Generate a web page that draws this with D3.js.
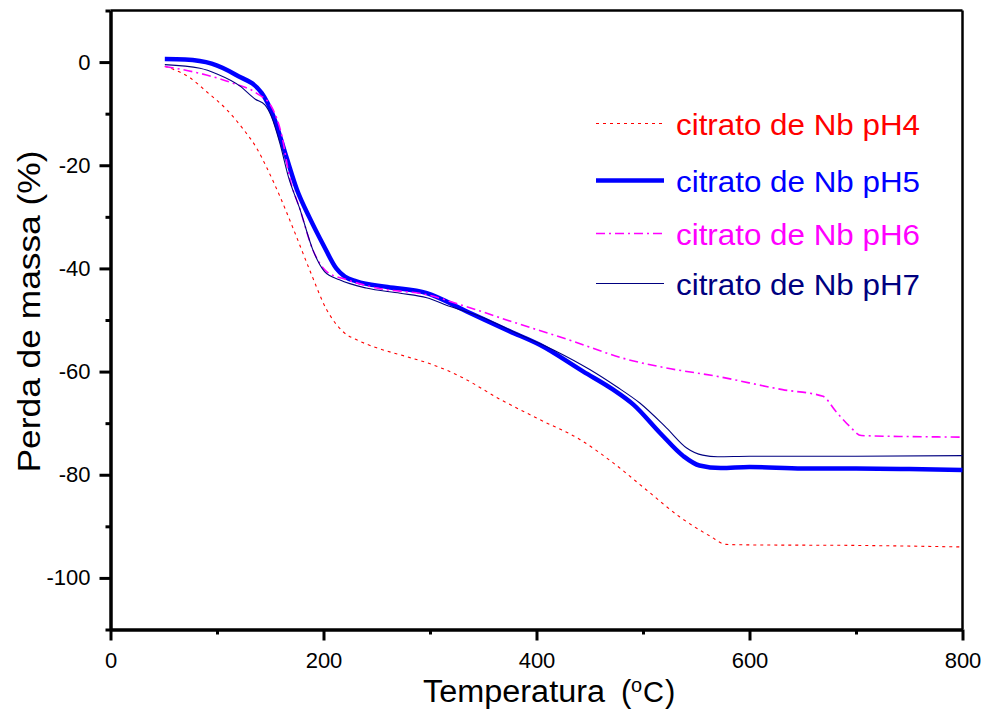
<!DOCTYPE html>
<html>
<head>
<meta charset="utf-8">
<script src="https://cdn.jsdelivr.net/npm/d3@7"></script>
<style>
  body { margin: 0; background: #fff; }
  svg text { font-family: "Liberation Sans", Arial, sans-serif; }
</style>
</head>
<body>
<script>
var width = 990, height = 714;

// Temperature (°C) and mass loss (%), one pair of arrays per sample
var tempPH4 = [51, 75, 90, 109, 125, 137, 147, 159, 172, 187, 203, 218, 234, 250, 278, 303, 328, 366, 403, 441, 472, 503, 534, 563, 578, 600, 700, 800];
var massPH4 = [-0.8, -3.1, -5.7, -9.2, -13.1, -16.6, -20.6, -26.0, -32.5, -40.3, -48.0, -52.2, -54.1, -55.4, -57.1, -58.7, -60.9, -65.4, -69.3, -73.2, -77.7, -82.9, -88.1, -91.9, -93.5, -93.6, -93.7, -94.0];

var tempPH5 = [51, 70, 95, 118, 142, 153, 165, 175, 187, 200, 212, 220, 231, 260, 297, 334, 375, 403, 444, 472, 491, 516, 538, 553, 573, 600, 650, 700, 750, 800];
var massPH5 = [0.6, 0.5, -0.3, -2.5, -6.0, -10.5, -18.3, -24.7, -30.2, -35.5, -40.0, -41.6, -42.5, -43.6, -44.8, -48.3, -52.2, -54.8, -60.0, -63.5, -66.4, -71.9, -76.4, -78.2, -78.7, -78.5, -78.8, -78.8, -78.9, -79.1];

var tempPH6 = [51, 90, 115, 137, 151, 161, 168, 178, 190, 203, 222, 250, 297, 334, 381, 434, 481, 522, 569, 631, 669, 681, 694, 705, 750, 800];
var massPH6 = [-0.85, -2.5, -4.1, -6.0, -8.6, -14.4, -22.2, -28.6, -36.4, -40.6, -42.2, -43.8, -45.1, -47.4, -50.6, -54.1, -57.4, -59.3, -60.9, -63.5, -64.8, -67.7, -70.6, -72.4, -72.6, -72.7];

var tempPH7 = [51, 84, 100, 122, 136, 145, 151, 159, 167, 178, 190, 201, 215, 240, 272, 297, 319, 347, 381, 416, 450, 475, 497, 522, 541, 556, 570, 600, 700, 800];
var massPH7 = [-0.5, -1.2, -2.3, -4.7, -7.2, -8.3, -10.5, -15.7, -22.2, -28.6, -36.4, -40.6, -42.2, -43.8, -44.8, -45.7, -47.4, -49.3, -52.5, -55.8, -59.6, -62.9, -66.1, -70.9, -74.8, -76.2, -76.5, -76.4, -76.4, -76.3];

var labels = ['citrato de Nb pH4', 'citrato de Nb pH5', 'citrato de Nb pH6', 'citrato de Nb pH7'];
var xMajor = [0, 200, 400, 600, 800];
var xMinor = [100, 300, 500, 700];
var yMajor = [0, -20, -40, -60, -80, -100];
var yMinor = [10, -10, -30, -50, -70, -90, -110];

// line styles per series
var series = [
  {label: labels[0], t: tempPH4, m: massPH4, color: '#ff0000', w: 1.1, dash: '3,4'},
  {label: labels[1], t: tempPH5, m: massPH5, color: '#0000ff', w: 4.5, dash: null},
  {label: labels[2], t: tempPH6, m: massPH6, color: '#ff00ff', w: 1.6, dash: '9,4,2,4'},
  {label: labels[3], t: tempPH7, m: massPH7, color: '#000080', w: 1.1, dash: null}
];

var svg = d3.select('body').append('svg')
  .attr('width', width)
  .attr('height', height);

var x = d3.scaleLinear().domain([0, 800]).range([110.5, 962.5]);
var y = d3.scaleLinear().domain([-110, 10]).range([629.5, 10.5]);

// frame: top and right
svg.append('line').attr('x1', x(0)).attr('x2', x(800)).attr('y1', y(10)).attr('y2', y(10))
  .attr('stroke', '#000').attr('stroke-width', 2.5);
svg.append('line').attr('x1', x(800)).attr('x2', x(800)).attr('y1', y(10)).attr('y2', y(-110))
  .attr('stroke', '#000').attr('stroke-width', 2.5);

function styleAxis(g) {
  g.select('.domain').attr('stroke-width', 3);
  g.selectAll('.tick line').attr('stroke-width', 3);
  g.selectAll('.tick text').style('font-size', '22px').attr('fill', '#000');
}

// minor ticks first, then major axes on top
svg.append('g').attr('transform', 'translate(0,' + y(-110) + ')')
  .call(d3.axisBottom(x).tickValues(xMinor).tickSize(5).tickSizeOuter(0).tickFormat(''))
  .call(styleAxis);
svg.append('g').attr('transform', 'translate(' + x(0) + ',0)')
  .call(d3.axisLeft(y).tickValues(yMinor).tickSize(5).tickSizeOuter(0).tickFormat(''))
  .call(styleAxis);

svg.append('g').attr('transform', 'translate(0,' + y(-110) + ')')
  .call(d3.axisBottom(x).tickValues(xMajor).tickSize(11).tickSizeOuter(0).tickPadding(12)
    .tickFormat(function(d) { return String(d); }))
  .call(styleAxis);
svg.append('g').attr('transform', 'translate(' + x(0) + ',0)')
  .call(d3.axisLeft(y).tickValues(yMajor).tickSize(11).tickSizeOuter(0).tickPadding(9)
    .tickFormat(function(d) { return String(d); }))
  .call(styleAxis);

// curves
var line = d3.line()
  .x(function(d) { return x(d[0]); })
  .y(function(d) { return y(d[1]); })
  .curve(d3.curveMonotoneX);

var plot = svg.append('g');
series.forEach(function(s) {
  var pts = s.t.map(function(t, i) { return [t, s.m[i]]; });
  plot.append('path')
    .datum(pts)
    .attr('d', line)
    .attr('fill', 'none')
    .attr('stroke', s.color)
    .attr('stroke-width', s.w)
    .attr('stroke-dasharray', s.dash)
    .attr('stroke-linejoin', 'round');
});

// legend
var legend = svg.append('g');
var legY = [123.5, 180.5, 233.5, 283.5];
series.forEach(function(s, i) {
  legend.append('line')
    .attr('x1', 596).attr('x2', 664)
    .attr('y1', legY[i]).attr('y2', legY[i])
    .attr('stroke', s.color)
    .attr('stroke-width', s.w)
    .attr('stroke-dasharray', s.dash);
  legend.append('text')
    .attr('x', 676).attr('y', legY[i] + 11)
    .attr('fill', s.color)
    .attr('textLength', 244)
    .attr('lengthAdjust', 'spacingAndGlyphs')
    .style('font-size', '29px')
    .text(s.label);
});

// axis titles
svg.append('text')
  .attr('x', 423).attr('y', 702)
  .attr('textLength', 182)
  .attr('lengthAdjust', 'spacingAndGlyphs')
  .style('font-size', '31px')
  .text('Temperatura');
svg.append('text').attr('x', 621).attr('y', 702).style('font-size', '31px').text('(');
svg.append('text').attr('x', 631).attr('y', 692).style('font-size', '20px').text('o');
svg.append('text').attr('x', 643).attr('y', 702).style('font-size', '29px').text('C');
svg.append('text').attr('x', 665).attr('y', 702).style('font-size', '31px').text(')');

svg.append('text')
  .attr('transform', 'translate(40,311.5) rotate(-90)')
  .attr('text-anchor', 'middle')
  .attr('textLength', 322)
  .attr('lengthAdjust', 'spacingAndGlyphs')
  .style('font-size', '31px')
  .text('Perda de massa (%)');
</script>
</body>
</html>
